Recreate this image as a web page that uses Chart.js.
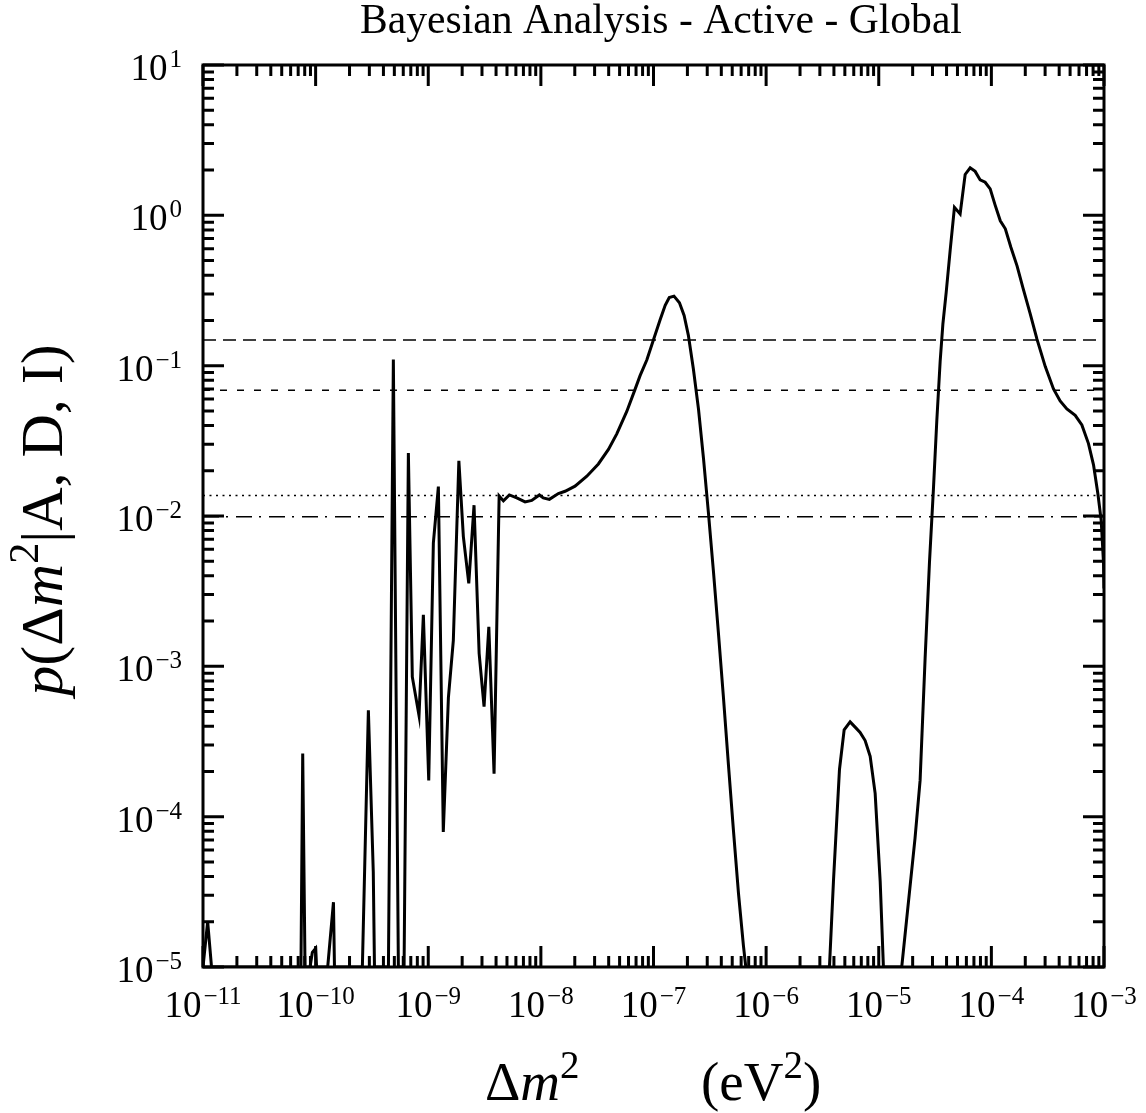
<!DOCTYPE html>
<html>
<head>
<meta charset="utf-8">
<title>Bayesian Analysis - Active - Global</title>
<script src="https://cdn.jsdelivr.net/npm/chart.js@4.4.1/dist/chart.umd.min.js"></script>
<style>
  html, body { margin: 0; padding: 0; background: #fff; }
  #wrap { position: relative; width: 1146px; height: 1113px; }
</style>
</head>
<body>
<div id="wrap"><canvas id="posterior"></canvas></div>
<script>
// posterior p(dm2 | A, D, I); 1e-5 = at/below the floor
const dm2 = [
  1.00e-11, 1.10e-11, 1.19e-11,
  7.41e-11, 7.68e-11, 8.05e-11, 8.92e-11, 9.35e-11, 1.00e-10, 1.02e-10,
  1.28e-10, 1.44e-10, 1.47e-10,
  2.60e-10, 2.94e-10, 3.25e-10, 3.33e-10,
  4.43e-10, 4.90e-10, 5.43e-10, 6.10e-10, 6.66e-10, 7.22e-10, 8.28e-10, 9.05e-10,
  1.01e-9, 1.11e-9, 1.23e-9, 1.36e-9, 1.51e-9, 1.67e-9, 1.87e-9, 2.05e-9, 2.29e-9,
  2.55e-9, 2.83e-9, 3.13e-9, 3.45e-9, 3.84e-9, 4.26e-9, 4.65e-9, 5.25e-9, 6.11e-9,
  7.24e-9, 8.30e-9, 9.70e-9, 1.05e-8, 1.19e-8, 1.43e-8, 1.64e-8, 2.01e-8, 2.56e-8,
  3.24e-8, 3.98e-8, 4.72e-8, 5.79e-8, 6.87e-8, 7.60e-8, 8.72e-8, 9.98e-8,
  1.145e-7, 1.27e-7, 1.38e-7, 1.52e-7, 1.70e-7, 1.87e-7, 2.04e-7, 2.26e-7, 2.51e-7,
  2.78e-7, 3.07e-7, 3.40e-7, 3.77e-7, 4.18e-7, 4.63e-7, 5.12e-7, 5.68e-7, 6.29e-7, 6.60e-7,
  3.65e-6, 3.96e-6, 4.48e-6, 4.93e-6, 5.57e-6, 6.17e-6, 6.83e-6, 7.57e-6, 8.39e-6,
  9.29e-6, 1.03e-5, 1.10e-5,
  1.60e-5, 2.10e-5, 2.33e-5, 2.58e-5, 2.82e-5, 3.06e-5, 3.28e-5, 3.51e-5, 3.71e-5,
  3.97e-5, 4.31e-5, 4.70e-5, 5.28e-5, 5.85e-5, 6.48e-5, 7.18e-5, 7.95e-5, 8.81e-5,
  9.76e-5, 1.08e-4, 1.20e-4, 1.33e-4, 1.49e-4, 1.69e-4, 1.91e-4, 2.21e-4, 2.54e-4,
  3.01e-4, 3.56e-4, 4.08e-4, 4.68e-4, 5.55e-4, 6.36e-4, 7.28e-4, 8.07e-4, 8.83e-4,
  9.44e-4, 9.90e-4, 1.00e-3
];
const prob = [
  1e-5, 2.0e-5, 1e-5,
  1e-5, 2.63e-4, 1e-5, 1e-5, 1.25e-5, 1.33e-5, 1e-5,
  1e-5, 2.7e-5, 1e-5,
  1e-5, 5.1e-4, 4.3e-5, 1e-5,
  1e-5, 0.11, 1e-5, 1e-5, 0.0262, 8.5e-4, 4.7e-4, 2.2e-3,
  1.74e-4, 6.6e-3, 0.0157, 7.9e-5, 6.2e-4, 1.49e-3, 0.0233, 7.3e-3, 3.56e-3,
  0.0118, 1.22e-3, 5.4e-4, 1.83e-3, 1.93e-4, 0.0136, 0.0126, 0.0138, 0.0132,
  0.0124, 0.0127, 0.0138, 0.0132, 0.0129, 0.0141, 0.0146, 0.0158, 0.0184,
  0.0222, 0.0277, 0.0352, 0.0496, 0.0698, 0.0858, 0.109, 0.148,
  0.202, 0.252, 0.284, 0.29, 0.262, 0.216, 0.159, 0.095, 0.0513,
  0.0241, 0.0106, 4.35e-3, 1.67e-3, 6.2e-4, 2.2e-4, 8.2e-5, 3.1e-5, 1.38e-5, 1e-5,
  1e-5, 3.7e-5, 2.06e-4, 3.78e-4, 4.27e-4, 3.94e-4, 3.63e-4, 3.21e-4, 2.52e-4,
  1.43e-4, 3.7e-5, 1e-5,
  1e-5, 7.2e-5, 1.75e-4, 1.13e-3, 4.9e-3, 0.0152, 0.0437, 0.107, 0.189,
  0.307, 0.589, 1.13, 1.02, 1.87, 2.07, 1.96, 1.72, 1.66,
  1.50, 1.17, 0.92, 0.814, 0.613, 0.461, 0.328, 0.222, 0.150,
  0.0986, 0.070, 0.0582, 0.0515, 0.0467, 0.0403, 0.0303, 0.0219, 0.014,
  9.35e-3, 4.9e-3, 3.3e-3
];
// horizontal credible-level lines
const levels = [0.148, 0.0685, 0.0137, 0.0099];
const levelDashes = [[13, 7], [7, 10], [2, 4.5], [16, 7, 2, 8]];

const xRange = [1e-11, 1e-3];
const yRange = [1e-5, 10];
const xTickPowers = [-11, -10, -9, -8, -7, -6, -5, -4, -3];
const yTickPowers = [-5, -4, -3, -2, -1, 0, 1];

const serif = '"Liberation Serif", "DejaVu Serif", serif';

function logTicks(lo, hi) {
  const out = [];
  const d0 = Math.round(Math.log10(lo)), d1 = Math.round(Math.log10(hi));
  for (let d = d0; d < d1; d++) {
    for (let m = 1; m < 10; m++) out.push({ v: m * Math.pow(10, d), major: m === 1 });
  }
  out.push({ v: hi, major: true });
  return out;
}

function drawPower(ctx, exp, x, y, align) {
  const sup = exp < 0 ? '\u2212' + (-exp) : String(exp);
  ctx.font = '37px ' + serif;
  const wb = ctx.measureText('10').width;
  ctx.font = '25px ' + serif;
  const ws = ctx.measureText(sup).width;
  const total = wb + 2 + ws;
  const left = align === 'center' ? x - total / 2 : x - total;
  ctx.font = '37px ' + serif;
  ctx.fillText('10', left, y);
  ctx.font = '25px ' + serif;
  ctx.fillText(sup, left + wb + 2, y - 13);
}

// parts: [text, italic, superscript]
function richWidth(ctx, parts, size) {
  let w = 0;
  for (const [t, it, sup] of parts) {
    ctx.font = (it ? 'italic ' : '') + Math.round(sup ? size * 0.7 : size) + 'px ' + serif;
    w += ctx.measureText(t).width;
  }
  return w;
}
function drawRich(ctx, parts, size, left, base) {
  let x = left;
  for (const [t, it, sup] of parts) {
    ctx.font = (it ? 'italic ' : '') + Math.round(sup ? size * 0.7 : size) + 'px ' + serif;
    ctx.fillText(t, x, sup ? base - size * 0.4 : base);
    x += ctx.measureText(t).width;
  }
}

const framePlugin = {
  id: 'frame',
  afterDatasetsDraw(chart) {
    const { ctx, chartArea: a, scales: { x, y } } = chart;
    ctx.save();
    ctx.strokeStyle = '#000';
    ctx.fillStyle = '#000';
    ctx.lineWidth = 3;
    ctx.strokeRect(a.left, a.top, a.right - a.left, a.bottom - a.top);

    ctx.beginPath();
    for (const t of logTicks(xRange[0], xRange[1])) {
      const px = x.getPixelForValue(t.v), len = t.major ? 21 : 11;
      ctx.moveTo(px, a.bottom); ctx.lineTo(px, a.bottom - len);
      ctx.moveTo(px, a.top); ctx.lineTo(px, a.top + len);
    }
    for (const t of logTicks(yRange[0], yRange[1])) {
      const py = y.getPixelForValue(t.v), len = t.major ? 21 : 11;
      ctx.moveTo(a.left, py); ctx.lineTo(a.left + len, py);
      ctx.moveTo(a.right, py); ctx.lineTo(a.right - len, py);
    }
    ctx.stroke();

    ctx.textAlign = 'left';
    ctx.textBaseline = 'alphabetic';
    for (const p of xTickPowers) {
      drawPower(ctx, p, x.getPixelForValue(Math.pow(10, p)), a.bottom + 50, 'center');
    }
    for (const p of yTickPowers) {
      drawPower(ctx, p, a.left - 21, y.getPixelForValue(Math.pow(10, p)) + 15, 'right');
    }

    // title
    const title = 'Bayesian Analysis - Active - Global';
    ctx.font = '30px ' + serif;
    const ts = 30 * 602 / ctx.measureText(title).width;
    ctx.font = ts.toFixed(1) + 'px ' + serif;
    ctx.textAlign = 'center';
    ctx.fillText(title, 661, 33);
    ctx.textAlign = 'left';

    // x axis title
    drawRich(ctx, [['\u0394', false], ['m', true], ['2', false, true]], 55, 485, 1100);
    drawRich(ctx, [['(eV', false], ['2', false, true], [')', false]], 55, 701, 1100);

    // y axis title
    const yParts = [['p', true], ['(\u0394', false], ['m', true], ['2', false, true], ['|A, D, I)', false]];
    let ys = 50;
    ys = ys * 350 / richWidth(ctx, yParts, ys);
    ctx.translate(62, 520);
    ctx.rotate(-Math.PI / 2);
    drawRich(ctx, yParts, ys, -richWidth(ctx, yParts, ys) / 2, 0);
    ctx.restore();
  }
};

new Chart(document.getElementById('posterior'), {
  type: 'line',
  data: {
    datasets: [
      {
        data: dm2.map((v, i) => ({ x: v, y: prob[i] })),
        borderColor: '#000',
        borderWidth: 3,
        pointRadius: 0,
        tension: 0
      },
      ...levels.map((lv, i) => ({
        data: [{ x: xRange[0], y: lv }, { x: xRange[1], y: lv }],
        borderColor: '#000',
        borderWidth: 1.5,
        borderDash: levelDashes[i],
        pointRadius: 0
      }))
    ]
  },
  options: {
    responsive: true,
    maintainAspectRatio: false,
    animation: false,
    layout: { padding: { left: 203, top: 65, right: 42, bottom: 146 } },
    scales: {
      x: { type: 'logarithmic', min: xRange[0], max: xRange[1], display: false },
      y: { type: 'logarithmic', min: yRange[0], max: yRange[1], display: false }
    },
    plugins: {
      legend: { display: false },
      tooltip: { enabled: false }
    }
  },
  plugins: [framePlugin]
});
</script>
</body>
</html>
